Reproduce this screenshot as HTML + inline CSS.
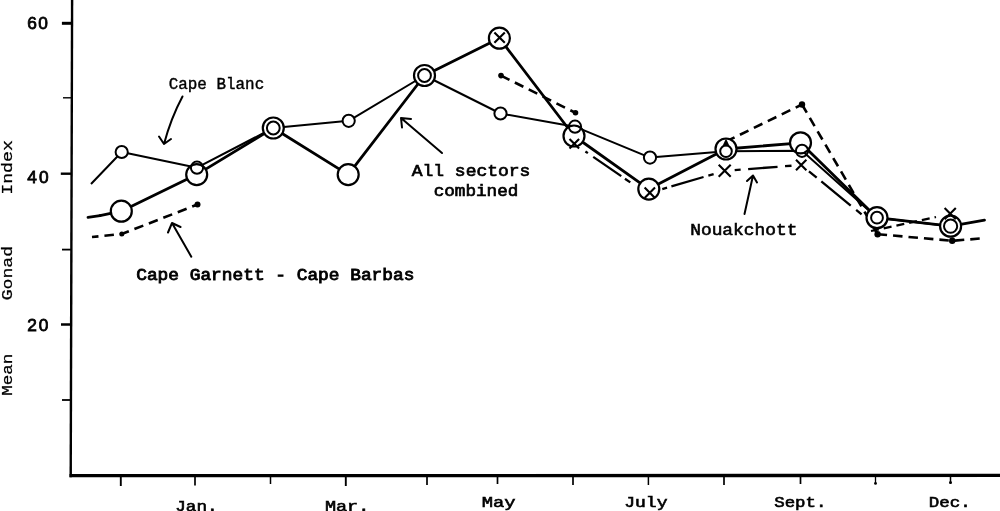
<!DOCTYPE html>
<html lang="en">
<head>
<meta charset="utf-8">
<title>Mean Gonad Index by month</title>
<style>
html,body{margin:0;padding:0;background:#fff;}
body{width:1000px;height:511px;overflow:hidden;}
svg{display:block;}
text{font-family:"Liberation Mono","DejaVu Sans Mono",monospace;fill:#000;}
.b{font-weight:bold;}
text.n{font-family:"Liberation Sans","DejaVu Sans",sans-serif;}
.t{stroke:#000;stroke-width:0.45;}
.ax{stroke:#000;fill:none;stroke-linecap:butt;}
.thin{stroke:#000;stroke-width:2;fill:none;stroke-linejoin:round;}
.thick{stroke:#000;stroke-width:2.8;fill:none;stroke-linejoin:round;stroke-linecap:round;}
.dash{stroke:#000;stroke-width:2.6;fill:none;stroke-dasharray:9.5 6;}
.dd{stroke:#000;stroke-width:2.3;fill:none;}
.big{fill:#fff;stroke:#000;stroke-width:2.2;}
.sm{fill:#fff;stroke:#000;stroke-width:2;}
.smn{fill:none;stroke:#000;stroke-width:2;}
.x{stroke:#000;stroke-width:2.1;fill:none;}
.arr{stroke:#000;stroke-width:2;fill:none;stroke-linecap:round;stroke-linejoin:round;}
</style>
</head>
<body>
<svg width="1000" height="511" viewBox="0 0 1000 511">
<rect x="0" y="0" width="1000" height="511" fill="#fff"/>

<!-- axes -->
<g id="axes">
<line class="ax" x1="72.1" y1="0" x2="70.7" y2="477.2" stroke-width="2.4"/>
<line class="ax" x1="69.5" y1="475.7" x2="1000" y2="475.4" stroke-width="3.3"/>
<!-- y ticks -->
<line class="ax" x1="61.9" y1="23.3" x2="72" y2="23.3" stroke-width="3"/>
<line class="ax" x1="63" y1="97.8" x2="72" y2="97.8" stroke-width="1.4"/>
<line class="ax" x1="60.8" y1="173.7" x2="72" y2="173.7" stroke-width="2.4"/>
<line class="ax" x1="62" y1="249.6" x2="72" y2="249.6" stroke-width="1.8"/>
<line class="ax" x1="61" y1="324.5" x2="72" y2="324.5" stroke-width="2.5"/>
<line class="ax" x1="62" y1="400" x2="72" y2="400" stroke-width="1.8"/>
<!-- x ticks -->
<line class="ax" x1="120.8" y1="475" x2="120.8" y2="486" stroke-width="1.9"/>
<line class="ax" x1="195" y1="475" x2="195" y2="485.5" stroke-width="1.7"/>
<line class="ax" x1="270.5" y1="475" x2="270.5" y2="484" stroke-width="1.5"/>
<line class="ax" x1="345.8" y1="475" x2="345.8" y2="486" stroke-width="1.9"/>
<line class="ax" x1="427" y1="475" x2="427" y2="485" stroke-width="1.7"/>
<line class="ax" x1="497.5" y1="475" x2="497.5" y2="484" stroke-width="1.7"/>
<line class="ax" x1="573" y1="475" x2="573" y2="485" stroke-width="1.7"/>
<line class="ax" x1="648.4" y1="475" x2="648.4" y2="485" stroke-width="1.5"/>
<line class="ax" x1="724" y1="475" x2="724" y2="485" stroke-width="1.7"/>
<line class="ax" x1="800.5" y1="475" x2="800.5" y2="484" stroke-width="1.7"/>
<line class="ax" x1="875.5" y1="475" x2="875.5" y2="484" stroke-width="1.3"/><circle cx="875.5" cy="483.4" r="1.4"/>
<line class="ax" x1="950.5" y1="475" x2="950.5" y2="483.5" stroke-width="1.5"/><circle cx="950.5" cy="482.6" r="1.5"/>
</g>

<g id="labels">
<text x="27.2" y="28.8" font-size="17.3" class="n" stroke="#000" stroke-width="0.8" textLength="20.7" lengthAdjust="spacing">60</text>
<text x="27.2" y="183.1" font-size="17.3" class="n" stroke="#000" stroke-width="0.8" textLength="21.3" lengthAdjust="spacing">40</text>
<text x="27.2" y="330.9" font-size="17.3" class="n" stroke="#000" stroke-width="0.8" textLength="21.2" lengthAdjust="spacing">20</text>
<text x="175.2" y="510.6" font-size="15.2" stroke="#000" stroke-width="0.6" textLength="42.5" lengthAdjust="spacingAndGlyphs">Jan.</text>
<text x="324.9" y="510.6" font-size="15.2" stroke="#000" stroke-width="0.6" textLength="44.4" lengthAdjust="spacingAndGlyphs">Mar.</text>
<text x="481.7" y="506.8" font-size="15.2" stroke="#000" stroke-width="0.6" textLength="33.8" lengthAdjust="spacingAndGlyphs">May</text>
<text x="624.2" y="506.8" font-size="15.2" stroke="#000" stroke-width="0.6" textLength="43.3" lengthAdjust="spacingAndGlyphs">July</text>
<text x="774.2" y="507.4" font-size="15.2" stroke="#000" stroke-width="0.6" textLength="52.3" lengthAdjust="spacingAndGlyphs">Sept.</text>
<text x="928.7" y="506.6" font-size="15.2" stroke="#000" stroke-width="0.6" textLength="42.0" lengthAdjust="spacingAndGlyphs">Dec.</text>
</g>
<g id="ytitle" stroke="#000" stroke-width="0.25">
<text transform="translate(12.4,194.8) rotate(-90)" font-size="15.4" textLength="54.8" lengthAdjust="spacingAndGlyphs">Index</text>
<text transform="translate(12.4,300.3) rotate(-90)" font-size="15.4" textLength="54.3" lengthAdjust="spacingAndGlyphs">Gonad</text>
<text transform="translate(12.4,395.8) rotate(-90)" font-size="15.4" textLength="42.2" lengthAdjust="spacingAndGlyphs">Mean</text>
</g>

<!-- Cape Garnett - Cape Barbas (dashed) -->
<g id="garnett">
<polyline class="dash" points="92,237 121.8,234 197.5,204.5" stroke-dashoffset="3"/>
<polyline class="dash" points="501,75.6 575.5,112.8" stroke-dasharray="0 6 10 4.6 10 4.6 10 8 10 4.6 10 100"/>
<polyline class="dash" points="726,141.5 802,104.5" stroke-dasharray="0 10 9 6"/>
<polyline class="dash" points="802,104.5 877.5,234" stroke-dasharray="0 5.5 8.3 6.6"/>
<polyline class="dash" points="877.6,234.2 952.2,240.8 983,238.3" stroke-dasharray="0 5 10 5" stroke-width="2.8"/>
<circle cx="121.8" cy="234" r="2.5"/>
<circle cx="197.5" cy="204.5" r="3"/>
<circle cx="501" cy="75.6" r="2.8"/>
<circle cx="575.5" cy="112.7" r="2.8"/>
<circle cx="802" cy="104.5" r="3.2"/>
<circle cx="877.6" cy="234.2" r="3.2"/>
<circle cx="952.2" cy="240.8" r="3.2"/>
</g>

<!-- Nouakchott (dash-dot) -->
<g id="nouak">
<line class="dd" x1="574.3" y1="143.8" x2="649.5" y2="195.6" stroke-dasharray="0 13.5 3 6.5 34 4.5 6.5 100"/>
<line class="dd" x1="649.8" y1="192.7" x2="724.7" y2="170.8" stroke-dasharray="0 13 5 4.5 33.5 5 5.5 100"/>
<line class="dd" x1="724.7" y1="170.8" x2="801.2" y2="165" stroke-dasharray="0 10 6 7.5 29.5 7.5 6.5 100"/>
<line class="dd" x1="801.2" y1="165" x2="877" y2="227" stroke-dasharray="0 10 10 6 38 7 7 100"/>
<line class="dd" x1="871" y1="231" x2="936" y2="217" stroke-dasharray="8 5"/>
</g>

<!-- Cape Blanc (thin) -->
<polyline class="thin" points="91,184 121.7,152 197,167.7 273.3,128 348.7,120.8 424.5,75.5 500.5,113.5 575,126.7 650,157.6 726,151.3 802,150.8 877,217.7 950.6,226.2"/>

<!-- All sectors combined (thick) -->
<g id="allsectors">
<line class="thick" x1="88" y1="217.3" x2="100" y2="215.7" stroke-width="3.2"/>
<line class="thick" x1="100" y1="215.7" x2="121.3" y2="211.2" stroke-width="3.2"/>
<line class="thick" x1="121.3" y1="211.2" x2="196.7" y2="174.6" stroke-width="3.3"/>
<line class="thick" x1="196.7" y1="174.6" x2="273.3" y2="128" stroke-width="3.2"/>
<line class="thick" x1="273.3" y1="128" x2="348.2" y2="174.6" stroke-width="3.0"/>
<line class="thick" x1="348.2" y1="174.6" x2="424.5" y2="75.5" stroke-width="3.0"/>
<line class="thick" x1="424.5" y1="75.5" x2="499.4" y2="38.2" stroke-width="3.1"/>
<line class="thick" x1="499.4" y1="38.2" x2="574" y2="136" stroke-width="2.6"/>
<line class="thick" x1="574" y1="136" x2="648.8" y2="189.1" stroke-width="2.1"/>
<line class="thick" x1="648.8" y1="189.1" x2="726" y2="149" stroke-width="3.3"/>
<line class="thick" x1="726" y1="149" x2="800.5" y2="142.8" stroke-width="3.3"/>
<line class="thick" x1="800.5" y1="142.8" x2="877" y2="217.7" stroke-width="3.1"/>
<line class="thick" x1="877" y1="217.7" x2="950.6" y2="226.2" stroke-width="3.0"/>
<line class="thick" x1="950.6" y1="226.2" x2="984.5" y2="220.2" stroke-width="3.2"/>
</g>

<!-- markers -->
<g id="markers">
<circle class="big" cx="121.3" cy="211.2" r="10.5"/>
<circle class="big" cx="196.7" cy="174.6" r="10.5"/>
<circle class="big" cx="273.3" cy="128" r="10.5"/>
<circle class="big" cx="348.2" cy="174.6" r="10.5"/>
<circle class="big" cx="424.5" cy="75.5" r="10.5"/>
<circle class="big" cx="499.4" cy="38.2" r="10.5"/>
<circle class="big" cx="574" cy="136" r="10.5"/>
<circle class="big" cx="648.8" cy="189.1" r="10.5"/>
<circle class="big" cx="726" cy="149" r="10.5"/>
<circle class="big" cx="800.5" cy="142.8" r="10.5"/>
<circle class="big" cx="877" cy="217.7" r="10.5"/>
<circle class="big" cx="950.6" cy="226.2" r="10.5"/>
<circle class="sm" cx="121.7" cy="152" r="6.1"/>
<circle class="smn" cx="197" cy="167.7" r="6.1"/>
<circle class="smn" cx="273.3" cy="128" r="6.4"/>
<circle class="sm" cx="348.7" cy="120.8" r="6.1"/>
<circle class="smn" cx="424.5" cy="75.5" r="6.4"/>
<circle class="sm" cx="500.5" cy="113.5" r="6.1"/>
<circle class="smn" cx="575" cy="126.7" r="6.1"/>
<circle class="sm" cx="650" cy="157.6" r="6.1"/>
<circle class="smn" cx="726" cy="151.3" r="5.8"/>
<circle class="smn" cx="802" cy="150.8" r="6.1"/>
<circle class="smn" cx="877" cy="217.7" r="5.9"/>
<circle class="smn" cx="950.6" cy="226.2" r="6.6"/>
<!-- X marks -->
<path class="x" d="M494.4,32.4 L504.8,42.8 M504.8,32.4 L494.4,42.8"/>
<path class="x" d="M569.5,139.0 L579.1,148.6 M579.1,139.0 L569.5,148.6"/>
<path class="x" d="M644.6,187.5 L655.0,197.9 M655.0,187.5 L644.6,197.9"/>
<path class="x" d="M718.7,164.8 L730.7,176.8 M730.7,164.8 L718.7,176.8"/>
<path class="x" d="M796.0,159.8 L806.4,170.2 M806.4,159.8 L796.0,170.2"/>

<path class="x" d="M944.6,208.0 L955.8,219.2 M955.8,208.0 L944.6,219.2"/>
<path d="M726,138.6 L722.4,146.2 L729.6,146.2 Z" fill="#000"/>
</g>

<!-- arrows -->
<g id="arrows">
<path class="arr" d="M182.5,96.5 Q171,118 164,144 M159,136.5 L164,144 L171,139"/>
<path class="arr" d="M442,153 L401,118 M411,119 L401,118 L402,127.5"/>
<path class="arr" d="M191.3,256.7 L172,223 M168,232.5 L172,223 L180.5,227"/>
<path class="arr" d="M744.5,214 L753,175.5 M747,181 L753,175.5 L757,182.5"/>
</g>

<g id="ann">
<text x="168.7" y="89" font-size="16" stroke="#000" stroke-width="0.4" textLength="95.5" lengthAdjust="spacingAndGlyphs">Cape Blanc</text>
<text x="411.7" y="175.6" font-size="15.6" stroke="#000" stroke-width="0.65" textLength="118.7" lengthAdjust="spacingAndGlyphs">All sectors</text>
<text x="433.7" y="196.4" font-size="15.6" stroke="#000" stroke-width="0.65" textLength="84.7" lengthAdjust="spacingAndGlyphs">combined</text>
<text x="690.2" y="234.6" font-size="15.6" stroke="#000" stroke-width="0.55" textLength="107.2" lengthAdjust="spacingAndGlyphs">Nouakchott</text>
<text x="136.2" y="280.2" font-size="15.6" stroke="#000" stroke-width="0.8" textLength="278.2" lengthAdjust="spacingAndGlyphs">Cape Garnett - Cape Barbas</text>
</g>
</svg>
</body>
</html>
